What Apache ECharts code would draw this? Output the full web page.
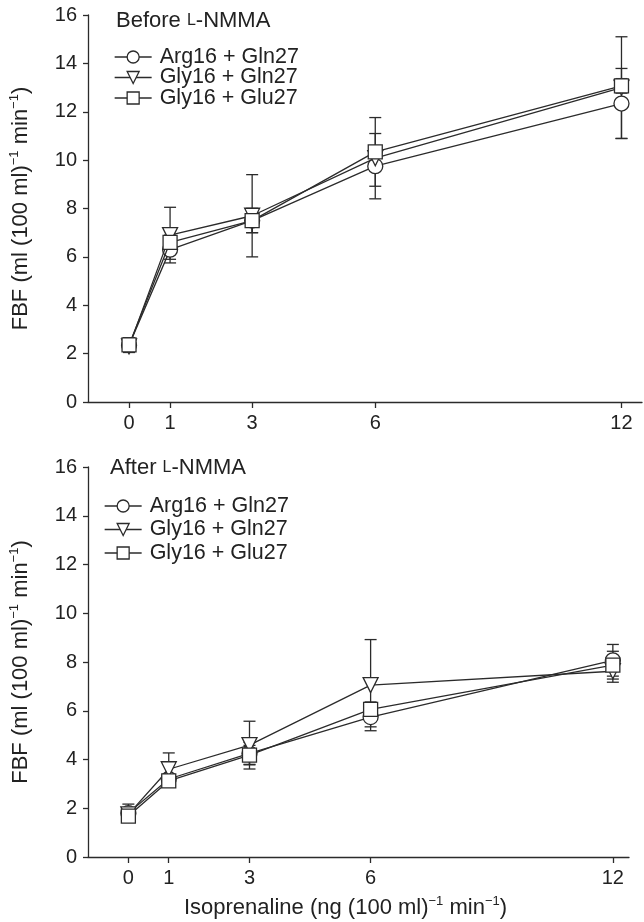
<!DOCTYPE html>
<html>
<head>
<meta charset="utf-8">
<script src="https://cdn.jsdelivr.net/npm/echarts@6/dist/echarts.min.js"></script>
<style>
html,body{margin:0;padding:0;background:#fff;}
#chart{width:644px;height:922px;}
</style>
</head>
<body>
<div id="chart"></div>
<script>
// ---- data ----
var doses = [0, 1, 3, 6, 12];
var seriesNames = ['Arg16 + Gln27', 'Gly16 + Gln27', 'Gly16 + Glu27'];
var yTicks = [0, 2, 4, 6, 8, 10, 12, 14, 16];

// Before L-NMMA (means and SEM)
var argGlnBefore = [2.35, 6.3, 7.5, 9.75, 12.34];
var argGlnBeforeErr = [0.3, 0.4, 0.5, 1.35, 1.45];
var glyGlnBefore = [2.3, 6.9, 7.7, 10.08, 13.0];
var glyGlnBeforeErr = [0.25, 1.15, 1.7, 0.3, 2.1];
var glyGluBefore = [2.36, 6.6, 7.5, 10.34, 13.07];
var glyGluBeforeErr = [0.3, 0.3, 0.5, 1.42, 0.3];

// After L-NMMA
var argGlnAfter = [1.8, 3.2, 4.25, 5.74, 8.07];
var argGlnAfterErr = [0.37, 0.2, 0.45, 0.4, 0.65];
var glyGlnAfter = [1.75, 3.6, 4.59, 7.05, 7.62];
var glyGlnAfterErr = [0.2, 0.67, 0.98, 1.87, 0.45];
var glyGluAfter = [1.68, 3.12, 4.18, 6.06, 7.87];
var glyGluAfterErr = [0.2, 0.2, 0.4, 0.3, 0.57];

// ---- build ----
var INK = '#2b2b2b';
var FONT = '"Liberation Sans", Arial, sans-serif';
var symbols = ['circle', 'triangle', 'rect'];
var rotates = [0, 180, 0];

function pairs(v){ return doses.map(function(d,i){ return [d, v[i]]; }); }
function errs(v,e){ return doses.map(function(d,i){ return [d, v[i]-e[i], v[i]+e[i]]; }); }

function errorRender(params, api){
  var x = api.value(0);
  var lo = api.coord([x, api.value(1)]);
  var hi = api.coord([x, api.value(2)]);
  var hw = 6;
  var st = {stroke: INK, lineWidth: 1.3};
  return {type:'group', children:[
    {type:'line', shape:{x1:lo[0], y1:lo[1], x2:hi[0], y2:hi[1]}, style:st},
    {type:'line', shape:{x1:lo[0]-hw, y1:lo[1], x2:lo[0]+hw, y2:lo[1]}, style:st},
    {type:'line', shape:{x1:hi[0]-hw, y1:hi[1], x2:hi[0]+hw, y2:hi[1]}, style:st}
  ]};
}

var panels = [
  {means:[argGlnBefore, glyGlnBefore, glyGluBefore], errs:[argGlnBeforeErr, glyGlnBeforeErr, glyGluBeforeErr]},
  {means:[argGlnAfter, glyGlnAfter, glyGluAfter], errs:[argGlnAfterErr, glyGlnAfterErr, glyGluAfterErr]}
];

var series = [];
panels.forEach(function(p, gi){
  p.means.forEach(function(m, si){
    series.push({
      type:'custom', name: seriesNames[si] + ' err', xAxisIndex: gi, yAxisIndex: gi,
      renderItem: errorRender, data: errs(m, p.errs[si]), z: 1, silent: true,
      encode: {x: 0, y: [1, 2]}
    });
  });
  p.means.forEach(function(m, si){
    series.push({
      type:'line', name: seriesNames[si], xAxisIndex: gi, yAxisIndex: gi,
      data: pairs(m), symbol: symbols[si], symbolRotate: rotates[si],
      symbolSize: si === 2 ? 14 : 15,
      showAllSymbol: true,
      lineStyle: {color: INK, width: 1.3},
      itemStyle: {color: '#fff', borderColor: INK, borderWidth: 1.3},
      z: 3 + si, animation: false
    });
  });
});

function sup(){ return {fontSize: 13, verticalAlign: 'top', lineHeight: 26, fontFamily: FONT, color: '#222', padding:[0,0,9,0]}; }

function xAxis(gi, max, withName){
  var a = {
    type:'value', gridIndex: gi, min: -1, max: max, interval: 1,
    splitLine:{show:false},
    axisLine:{onZero:false, lineStyle:{color: INK, width: 1.3}},
    axisTick:{customValues: doses, length: 6, lineStyle:{color: INK, width:1.3}},
    axisLabel:{customValues: doses, fontSize: 20, fontFamily: FONT, color:'#222', margin: 11}
  };
  if (withName){
    a.name = 'Isoprenaline (ng (100 ml){sup|−1} min{sup|−1})';
    a.nameLocation = 'middle';
    a.nameGap = 38;
    a.nameTextStyle = {fontSize: 22, fontFamily: FONT, color:'#222', lineHeight: 26, padding:[0,26,0,0], rich:{sup: sup()}};
  }
  return a;
}
function yAxis(gi){
  return {
    type:'value', gridIndex: gi, min: 0, max: 16, interval: 2,
    splitLine:{show:false},
    axisLine:{show:true, onZero:false, lineStyle:{color: INK, width: 1.3}},
    axisTick:{show:true, length: 5, lineStyle:{color: INK, width:1.3}},
    axisLabel:{fontSize: 20, fontFamily: FONT, color:'#222', margin: 11},
    name: 'FBF (ml (100 ml){sup|−1} min{sup|−1})',
    nameLocation:'middle', nameGap: 54, nameRotate: 90,
    nameTextStyle:{fontSize: 22, fontFamily: FONT, color:'#222', lineHeight: 26, rich:{sup: sup()}}
  };
}

function legend(left, top, gap){
  return {
    orient:'vertical', left: left, top: top, itemWidth: 37, itemHeight: 15, itemGap: gap,
    padding: 0, data: seriesNames, selectedMode: false,
    textStyle:{fontSize: 21.5, fontFamily: FONT, color:'#222', padding:[0,0,0,3]},
    lineStyle:{color: INK, width: 1.3},
    itemStyle:{color:'#fff', borderColor: INK, borderWidth: 1.3}
  };
}

var titleRich = {sc:{fontSize: 16, fontFamily: FONT, color:'#222'}};

var option = {
  backgroundColor:'#fff',
  animation:false,
  title:[
    {text:'Before {sc|L}-NMMA', left: 116, top: 10, padding: 0,
     textStyle:{fontSize: 22, fontWeight:'normal', fontFamily: FONT, color:'#222', rich: titleRich}},
    {text:'After {sc|L}-NMMA', left: 110, top: 457, padding: 0,
     textStyle:{fontSize: 22, fontWeight:'normal', fontFamily: FONT, color:'#222', rich: titleRich}}
  ],
  legend:[ legend(114, 46, -1.5), legend(104, 495, 1.5) ],
  grid:[
    {left: 87, top: 15, width: 555, height: 387},
    {left: 78, top: 467, width: 551, height: 390}
  ],
  xAxis:[ xAxis(0, 12.5, false), xAxis(1, 12.4, true) ],
  yAxis:[ yAxis(0), yAxis(1) ],
  series: series
};

var chart = echarts.init(document.getElementById('chart'), null, {renderer:'canvas'});
chart.setOption(option);
</script>
</body>
</html>
